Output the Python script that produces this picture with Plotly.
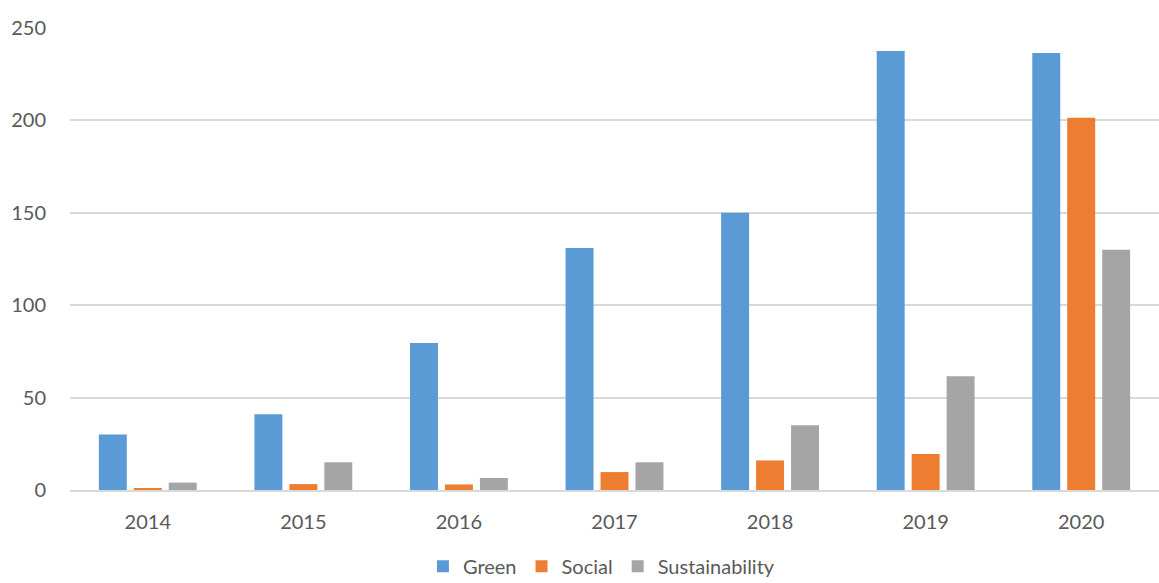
import plotly.graph_objects as go

years = ["2014", "2015", "2016", "2017", "2018", "2019", "2020"]
green = [30, 41, 79.5, 131, 150, 237.5, 236.5]
social = [1, 3.2, 3, 9.7, 16, 19.5, 201.5]
sustainability = [4, 15, 6.5, 15, 35, 61.5, 130]

fig = go.Figure()
fig.add_trace(go.Bar(name="Green", x=years, y=green, marker=dict(color="#5B9BD5", line=dict(width=0))))
fig.add_trace(go.Bar(name="Social", x=years, y=social, marker=dict(color="#ED7D31", line=dict(width=0))))
fig.add_trace(go.Bar(name="Sustainability", x=years, y=sustainability, marker=dict(color="#A5A5A5", line=dict(width=0))))

fam = "Lato, Calibri, Carlito, sans-serif"
fig.update_layout(
    width=1159, height=583,
    margin=dict(l=70, r=0, t=28, b=93),
    plot_bgcolor="white", paper_bgcolor="white",
    barmode="group", bargap=0.326, bargroupgap=0.2,
    font=dict(family=fam, size=20, color="#595959"),
    showlegend=True,
    legend=dict(orientation="h", x=0.488, xanchor="center", yref="container", y=0.062, yanchor="top",
                font=dict(size=20, color="#595959", family=fam),
                itemwidth=30, tracegroupgap=0),
    xaxis=dict(showgrid=False, showline=True, linecolor="#D9D9D9", linewidth=2,
               ticks="", ticklabelstandoff=13, tickfont=dict(size=20)),
    yaxis=dict(range=[0, 250], dtick=50, showgrid=True, gridcolor="#D9D9D9", gridwidth=1.5,
               zeroline=False, showline=False, ticks="", ticklabelstandoff=23,
               tickfont=dict(size=20)),
)
fig.write_html(
    "out.html",
    config={"displayModeBar": False},
    post_script="document.body.style.margin='0';document.body.style.overflow='hidden';document.documentElement.style.overflow='hidden';",
)
